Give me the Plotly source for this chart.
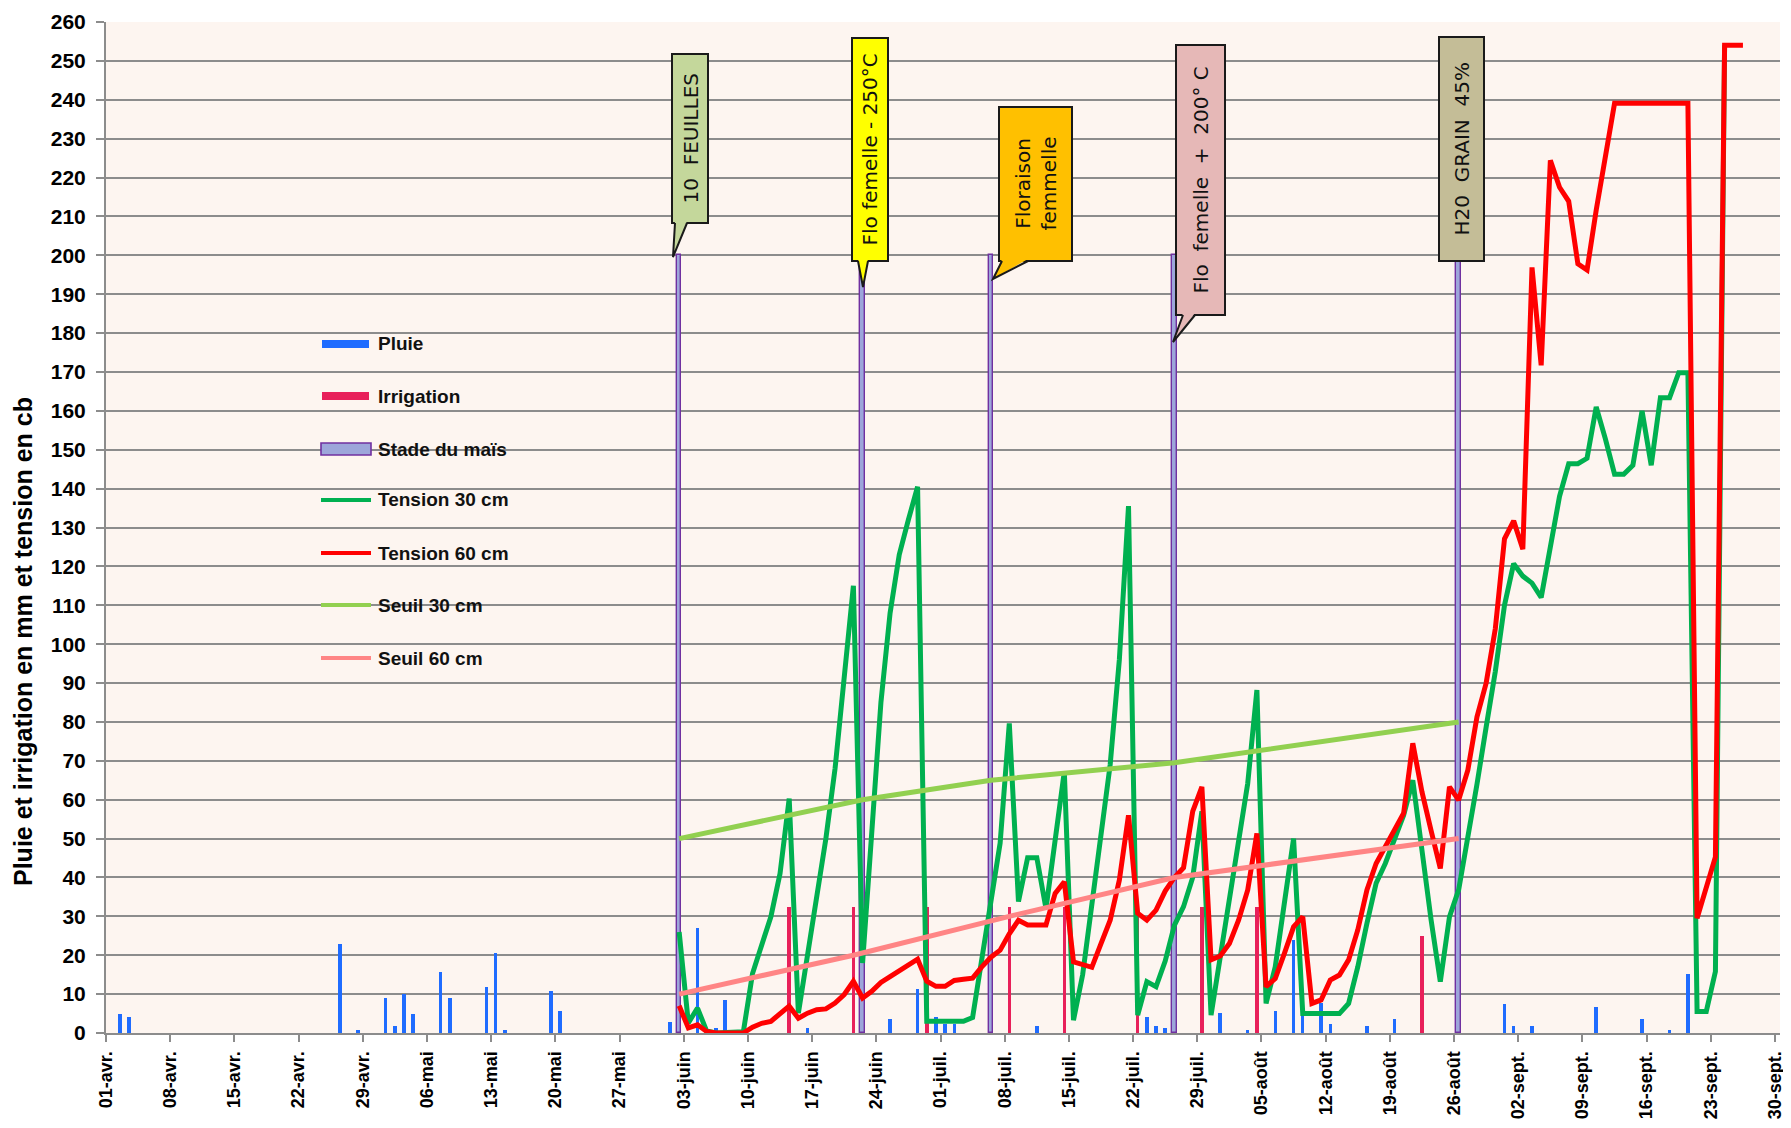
"""
Tension / pluie / irrigation — suivi maïs (recréation Plotly)
"""

import plotly.graph_objects as go
from datetime import datetime, timedelta

YEAR = 2012
DAY_MS = 86400000

# ---------------------------------------------------------------------------
# Données
# ---------------------------------------------------------------------------

pluie_jours = ["04-02", "04-03", "04-26", "04-28", "05-01", "05-02", "05-03", "05-04",
               "05-07", "05-08", "05-12", "05-13", "05-14", "05-19", "05-20", "06-01",
               "06-04", "06-06", "06-07", "06-16", "06-25", "06-28", "06-30", "07-01",
               "07-02", "07-11", "07-22", "07-23", "07-24", "07-25", "07-31", "08-03",
               "08-06", "08-08", "08-09", "08-11", "08-12", "08-16", "08-19", "08-31",
               "09-01", "09-03", "09-10", "09-15", "09-18", "09-20"]
pluie_mm = [5.0, 4.1, 23.0, 0.7, 9.0, 1.7, 10.0, 5.0,
            15.7, 9.0, 11.8, 20.7, 0.7, 10.7, 5.7, 2.9,
            27.0, 1.3, 8.5, 1.3, 3.5, 11.3, 4.1, 2.2,
            2.2, 1.7, 1.3, 4.1, 1.7, 1.3, 5.2, 0.7,
            5.7, 24.0, 4.8, 7.8, 2.4, 1.7, 3.5, 7.4,
            1.7, 1.7, 6.8, 3.5, 0.7, 15.2]

irrig_jours = ["06-14", "06-21", "06-29", "07-08", "07-14", "07-22", "07-29", "08-04", "08-22"]
irrig_mm = [32.3, 32.3, 32.3, 32.3, 32.3, 32.3, 32.3, 32.3, 25.0]

stade_jours = ["06-02", "06-22", "07-06", "07-26", "08-26"]
stade_val = [200, 200, 200, 200, 200]

# tensions : une valeur par jour à partir de la date de début
t30_debut = "06-02"
tension_30 = [
    # juin (02 -> 30)
    26, 2.6, 6.4, 0.5, 0, 0, 0, 0.3, 15.3, 22.6, 29.9, 41, 60.3, 5.1, 20, 34.5,
    50, 68, 92, 115, 18, 53, 85, 108, 123, 132, 140.5, 3, 3,
    # juillet
    3, 3, 3, 4, 19, 34, 48.8, 79.6, 33.8, 45.1, 45.1, 32, 50, 67.2, 3.3, 15,
    33, 50, 69, 96, 135.5, 4.6, 13.2, 11.9, 18.5, 27.7, 32.5, 40, 57, 4.6, 20,
    # août
    35, 49.5, 64.2, 88.2, 7.6, 17, 33.3, 50, 5, 5, 5, 5, 5, 7.6, 17, 28.2,
    38.5, 43.6, 49.6, 56, 65, 46, 29, 13.2, 29.9, 36.8, 49.6, 64, 78.7, 93, 110,
    # septembre (01 -> 24)
    120.7, 117.5, 115.7, 112, 125, 138, 146.4, 146.4, 147.8, 161, 152.8, 143.7,
    143.7, 146, 160, 146, 163.4, 163.4, 169.8, 169.8, 5.5, 5.5, 15.8, 254,
]

t60_debut = "06-02"
tension_60 = [
    # juin (02 -> 30)
    7.0, 1.3, 2.1, 0.4, 0, 0, 0, 0, 1.5, 2.5, 3.0, 5.0, 6.9, 3.8, 5.1, 6.0,
    6.2, 7.7, 9.9, 13.3, 9.0, 10.7, 13.0, 14.5, 16.0, 17.5, 19.0, 13.3, 12.0,
    # juillet
    12.0, 13.5, 13.8, 14.1, 17.0, 19.5, 21.3, 25.5, 29.0, 27.8, 27.8, 27.8, 35.9,
    38.9, 18.3, 17.5, 16.9, 23, 29, 39.3, 56, 30.8, 29, 31.6, 36.5, 40, 42.5, 57,
    63.3, 18.8, 19.8,
    # août
    23, 29, 36.8, 51.3, 11.9, 14, 20.5, 27.3, 29.9, 7.6, 8.5, 13.6, 14.9, 18.8,
    26.5, 36.8, 43.6, 47.9, 52.2, 56.5, 74.5, 62, 52, 42.3, 63.3, 59.9, 67.6,
    81.3, 90, 104, 127.1,
    # septembre (01 -> 26)
    131.7, 124.4, 196.9, 171.7, 224.4, 217.5, 213.9, 197.8, 196.2, 211.6, 225,
    239.1, 239.1, 239.1, 239.1, 239.1, 239.1, 239.1, 239.1, 239.1, 29.5, 37.4,
    45.3, 254, 254, 254,
]

seuil30_jours = ["06-02", "06-22", "07-06", "07-26", "08-26"]
seuil30 = [50, 60, 65, 69.5, 80]
seuil60_jours = ["06-02", "06-21", "07-08", "07-26", "08-26"]
seuil60 = [10, 20, 30, 40, 50]

tick_jours = ["04-01", "04-08", "04-15", "04-22", "04-29", "05-06", "05-13", "05-20",
              "05-27", "06-03", "06-10", "06-17", "06-24", "07-01", "07-08", "07-15",
              "07-22", "07-29", "08-05", "08-12", "08-19", "08-26", "09-02", "09-09",
              "09-16", "09-23", "09-30"]
tick_labels = ["01-avr.", "08-avr.", "15-avr.", "22-avr.", "29-avr.", "06-mai", "13-mai",
               "20-mai", "27-mai", "03-juin", "10-juin", "17-juin", "24-juin", "01-juil.",
               "08-juil.", "15-juil.", "22-juil.", "29-juil.", "05-août", "12-août",
               "19-août", "26-août", "02-sept.", "09-sept.", "16-sept.", "23-sept.",
               "30-sept."]

# ---------------------------------------------------------------------------
# Couleurs
# ---------------------------------------------------------------------------
BLUE = "#1F6CFF"
CRIMSON = "#E8205A"
STADE_FILL = "#9DA6DA"
STADE_LINE = "#7030A0"
GREEN = "#00B050"
RED = "#FF0000"
SEUIL30_C = "#92D050"
SEUIL60_C = "#FF8585"
GRID = "#8C8C8C"


def day(s):
    m, d = s.split("-")
    return datetime(YEAR, int(m), int(d))


def mid(s):
    # Excel place chaque point au milieu de son jour
    return day(s) + timedelta(hours=12)


def daily(start, n):
    return [day(start) + timedelta(days=i, hours=12) for i in range(n)]


fig = go.Figure()

fig.add_trace(go.Bar(
    x=[mid(d) for d in pluie_jours], y=pluie_mm, width=DAY_MS * 0.38,
    marker=dict(color=BLUE, line_width=0), name="Pluie",
))
fig.add_trace(go.Bar(
    x=[mid(d) for d in irrig_jours], y=irrig_mm, width=DAY_MS * 0.38,
    marker=dict(color=CRIMSON, line_width=0), name="Irrigation",
))
fig.add_trace(go.Bar(
    x=[mid(d) for d in stade_jours], y=stade_val, width=DAY_MS * 0.5,
    marker=dict(color=STADE_FILL, line=dict(color=STADE_LINE, width=1.4)),
    name="Stade du maïs",
))
fig.add_trace(go.Scatter(
    x=daily(t30_debut, len(tension_30)), y=tension_30, mode="lines",
    line=dict(color=GREEN, width=5), name="Tension 30 cm", cliponaxis=False,
))
fig.add_trace(go.Scatter(
    x=daily(t60_debut, len(tension_60)), y=tension_60, mode="lines",
    line=dict(color=RED, width=5), name="Tension 60 cm", cliponaxis=False,
))
fig.add_trace(go.Scatter(
    x=[mid(d) for d in seuil30_jours], y=seuil30, mode="lines",
    line=dict(color=SEUIL30_C, width=5), name="Seuil 30 cm",
))
fig.add_trace(go.Scatter(
    x=[mid(d) for d in seuil60_jours], y=seuil60, mode="lines",
    line=dict(color=SEUIL60_C, width=5), name="Seuil 60 cm",
))

# ---------------------------------------------------------------------------
# Mise en page
# ---------------------------------------------------------------------------
OFF = 8                                 # marge par défaut du <body> de la page
W, H = 1791 - OFF, 1128 - OFF
PL, PR, PT, PB = 106, 1780, 22, 1033   # zone de tracé en pixels (écran)


def px(x, y):
    """pixel écran -> coordonnées 'paper'"""
    return (x - PL) / (PR - PL), (PB - y) / (PB - PT)


shapes = []
annotations = []

# bulles des stades
callouts = [
    dict(text="10  FEUILLES", fill="#C4D79B", box=(672, 54, 708, 223),
         wedge=((675, 687), 223, (673, 257))),
    dict(text="Flo femelle - 250°C", fill="#FFFF00", box=(852, 38, 888, 261),
         wedge=((858, 868), 261, (863, 287))),
    dict(text="Floraison<br>femmelle", fill="#FFC000", box=(999, 107, 1072, 261),
         wedge=((1002, 1028), 261, (993, 279))),
    dict(text="Flo  femelle  +  200° C", fill="#E6B8B7", box=(1176, 45, 1225, 315),
         wedge=((1183, 1195), 315, (1173, 342))),
    dict(text="H20  GRAIN  45%", fill="#C4BD97", box=(1439, 37, 1484, 261), wedge=None),
]
for c in callouts:
    x0, y0, x1, y1 = c["box"]
    a, b = px(x0, y1)
    cc, d = px(x1, y0)
    shapes.append(dict(type="rect", xref="paper", yref="paper", x0=a, y0=b, x1=cc, y1=d,
                       fillcolor=c["fill"], line=dict(color="#1A1A1A", width=2),
                       layer="above"))
    if c["wedge"]:
        (bx0, bx1), by, (tx, ty) = c["wedge"]
        p0, p1, pt = px(bx0, by - 2), px(bx1, by - 2), px(tx, ty)
        q0, q1 = px(bx0, by), px(bx1, by)
        shapes.append(dict(type="path", xref="paper", yref="paper", layer="above",
                           path=f"M {p0[0]} {p0[1]} L {pt[0]} {pt[1]} L {p1[0]} {p1[1]} Z",
                           fillcolor=c["fill"], line=dict(width=0)))
        shapes.append(dict(type="path", xref="paper", yref="paper", layer="above",
                           path=f"M {q0[0]} {q0[1]} L {pt[0]} {pt[1]} L {q1[0]} {q1[1]}",
                           fillcolor="rgba(0,0,0,0)", line=dict(color="#1A1A1A", width=2)))
    cx, cy = px((x0 + x1) / 2, (y0 + y1) / 2)
    annotations.append(dict(xref="paper", yref="paper", x=cx, y=cy, text=c["text"],
                            textangle=-90, showarrow=False, xanchor="center", yanchor="middle",
                            font=dict(family="DejaVu Sans", size=20, color="#111111")))

# légende manuelle
legend_items = [
    ("Pluie", "bar", BLUE, 344),
    ("Irrigation", "bar", CRIMSON, 396),
    ("Stade du maïs", "box", STADE_FILL, 449),
    ("Tension 30 cm", "line", GREEN, 500),
    ("Tension 60 cm", "line", RED, 553),
    ("Seuil 30 cm", "line", SEUIL30_C, 605),
    ("Seuil 60 cm", "line", SEUIL60_C, 658),
]
for label, kind, col, ypix in legend_items:
    if kind == "bar":
        a, b = px(322, ypix + 4)
        cc, d = px(369, ypix - 4)
        shapes.append(dict(type="rect", xref="paper", yref="paper", x0=a, y0=b, x1=cc, y1=d,
                           fillcolor=col, line=dict(width=0)))
    elif kind == "box":
        a, b = px(321, ypix + 6)
        cc, d = px(371, ypix - 6)
        shapes.append(dict(type="rect", xref="paper", yref="paper", x0=a, y0=b, x1=cc, y1=d,
                           fillcolor=col, line=dict(color=STADE_LINE, width=1.6)))
    else:
        a, b = px(321, ypix)
        cc, _ = px(371, ypix)
        shapes.append(dict(type="line", xref="paper", yref="paper", x0=a, y0=b, x1=cc, y1=b,
                           line=dict(color=col, width=4)))
    tx, ty = px(376, ypix)
    annotations.append(dict(xref="paper", yref="paper", x=tx, y=ty, text=label,
                            showarrow=False, xanchor="left", yanchor="middle",
                            font=dict(family="Liberation Sans Narrow, Arial Narrow, Liberation Sans",
                                      size=19, weight="bold", color="#111111")))

# titre de l'axe vertical
tx, ty = px(23, 642)
annotations.append(dict(xref="paper", yref="paper", x=tx, y=ty,
                        text="Pluie et irrigation en mm et tension en cb",
                        textangle=-90, showarrow=False, xanchor="center", yanchor="middle",
                        font=dict(family="Liberation Sans", size=25, weight="bold",
                                  color="#000000")))

fig.update_layout(
    width=W, height=H, autosize=False,
    margin=dict(l=PL - OFF, r=1791 - PR, t=PT - OFF, b=1128 - PB),
    plot_bgcolor="#FDF5F0", paper_bgcolor="white",
    barmode="overlay", bargap=0, showlegend=False,
    shapes=shapes, annotations=annotations,
    xaxis=dict(
        type="date", range=[day("04-01"), day("09-30") + timedelta(hours=13)],
        automargin=False,
        tickmode="array", tickvals=[day(t) for t in tick_jours], ticktext=tick_labels,
        tickangle=-90, ticks="outside", ticklen=7, tickwidth=1.5, tickcolor=GRID,
        showgrid=False, showline=True, linecolor=GRID, linewidth=2, zeroline=False,
        ticklabelstandoff=2,
        tickfont=dict(family="Liberation Sans", size=18, weight="bold", color="#000000"),
    ),
    yaxis=dict(
        range=[0, 260], tick0=0, dtick=10, automargin=False,
        showgrid=True, gridcolor=GRID, gridwidth=1.8,
        ticks="outside", ticklen=8, tickwidth=1.5, tickcolor=GRID,
        showline=True, linecolor=GRID, linewidth=2, zeroline=False,
        ticklabelstandoff=6,
        tickfont=dict(family="Liberation Sans Narrow, Arial Narrow, Liberation Sans",
                      size=21, weight="bold", color="#000000"),
    ),
)

fig.write_html("out.html")
